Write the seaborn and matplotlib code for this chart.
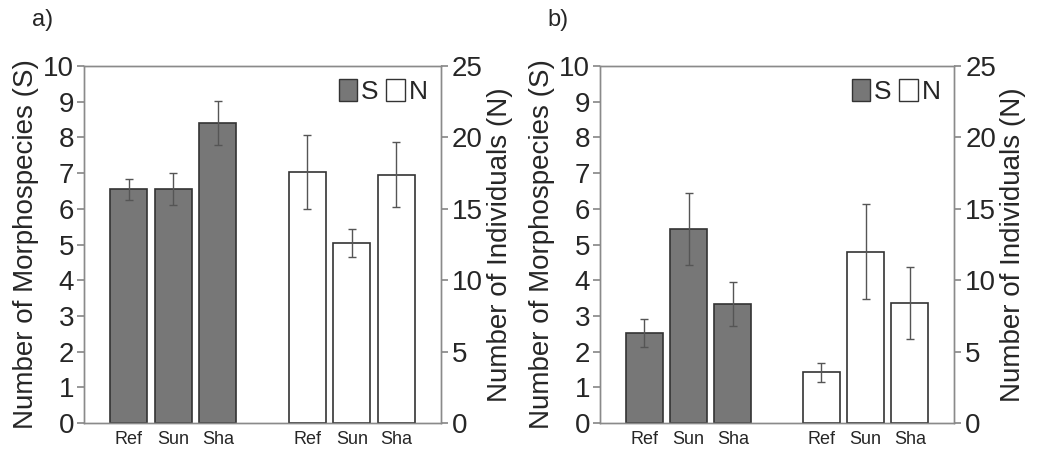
import numpy as np
import pandas as pd
import matplotlib
matplotlib.use("Agg")
import matplotlib.pyplot as plt
from matplotlib.patches import Patch
import seaborn as sns

# ---- data ----
sites = ["Ref", "Sun", "Sha"]
xlabels = ["Ref", "Sun", "Sha", "", "Ref", "Sun", "Sha"]

S_a = [6.55, 6.55, 8.4]
S_a_err = [0.29, 0.45, 0.62]
N_a = [17.6, 12.6, 17.4]
N_a_err = [2.6, 1.0, 2.3]

S_b = [2.52, 5.43, 3.33]
S_b_err = [0.38, 1.0, 0.61]
N_b = [3.55, 12.0, 8.4]
N_b_err = [0.65, 3.35, 2.5]

panel_labels = ["a)", "b)"]

sns.set_theme(style="white")
plt.rcParams["font.family"] = ["Liberation Sans", "DejaVu Sans"]

fig = plt.figure(figsize=(10.49, 4.54), dpi=100)

slots = ["S_" + s for s in sites] + ["gap"] + ["N_" + s for s in sites]
spine_col = "#8a8a8a"
edge_col = "#333333"
err_col = "#555555"

panels = [
    (S_a, S_a_err, N_a, N_a_err, [0.0801, 0.0683, 0.3403, 0.7863]),
    (S_b, S_b_err, N_b, N_b_err, [0.5720, 0.0683, 0.3375, 0.7863]),
]

for i, (S, Se, N, Ne, rect) in enumerate(panels):
    ax = fig.add_axes(rect)
    ax2 = ax.twinx()
    dfS = pd.DataFrame({"slot": ["S_" + s for s in sites], "val": S})
    dfN = pd.DataFrame({"slot": ["N_" + s for s in sites], "val": N})
    sns.barplot(data=dfS, x="slot", y="val", order=slots, ax=ax,
                color="#777777", saturation=1, edgecolor=edge_col,
                linewidth=1.2, width=0.83, errorbar=None)
    sns.barplot(data=dfN, x="slot", y="val", order=slots, ax=ax2,
                color="white", saturation=1, edgecolor=edge_col,
                linewidth=1.2, width=0.83, errorbar=None)
    xs = [slots.index("S_" + s) for s in sites]
    xn = [slots.index("N_" + s) for s in sites]
    ax.errorbar(xs, S, yerr=Se, fmt="none", ecolor=err_col, elinewidth=1,
                capsize=3, capthick=1)
    ax2.errorbar(xn, N, yerr=Ne, fmt="none", ecolor=err_col, elinewidth=1,
                 capsize=3, capthick=1)

    ax.set_ylim(0, 10)
    ax2.set_ylim(0, 25)
    ax.set_xlim(-1, 7)
    ax2.set_xlim(-1, 7)
    ax.set_yticks(range(0, 11))
    ax2.set_yticks(range(0, 26, 5))
    ax.set_xticks(range(len(xlabels)))
    ax.set_xticklabels(xlabels, fontsize=13)
    ax.set_xlabel("")
    ax2.set_xlabel("")
    ax.set_ylabel("Number of Morphospecies (S)", fontsize=20, labelpad=3)
    ax2.set_ylabel("Number of Individuals (N)", fontsize=20, labelpad=3)
    ax.tick_params(axis="y", labelsize=20, length=5, color=spine_col,
                   direction="out", left=True, pad=2)
    ax2.tick_params(axis="y", labelsize=20, length=5, color=spine_col,
                    direction="out", right=True, pad=3)
    ax.tick_params(axis="x", length=0, pad=6)
    for a in (ax, ax2):
        for sp in a.spines.values():
            sp.set_color(spine_col)
            sp.set_linewidth(1.0)

    handles = [Patch(facecolor="#777777", edgecolor=edge_col, label="S"),
               Patch(facecolor="white", edgecolor=edge_col, label="N")]
    ax2.legend(handles=handles, loc="upper right", ncol=2, fontsize=19,
               frameon=False, handlelength=0.7, handleheight=0.9,
               columnspacing=0.3, handletextpad=0.15, borderaxespad=0.1)

    fig.text(rect[0] - 0.05, 0.955, panel_labels[i], fontsize=17,
             ha="left", va="center")

fig.savefig("out.png", dpi=100)
